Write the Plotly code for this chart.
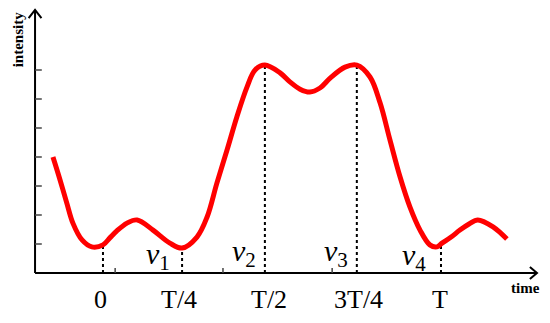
import plotly.graph_objects as go

# Curve (time in units of T, intensity in tick units)
time = [-0.148, -0.127, -0.107, -0.089, -0.062, -0.033, 0.000, 0.021, 0.041, 0.071,
        0.101, 0.148, 0.198, 0.234, 0.278, 0.308, 0.337, 0.367, 0.396, 0.426,
        0.450, 0.479, 0.524, 0.553, 0.583, 0.612, 0.642, 0.672, 0.716, 0.751,
        0.790, 0.820, 0.849, 0.879, 0.908, 0.938, 0.967, 0.988, 1.003, 1.030,
        1.056, 1.083, 1.109, 1.154, 1.195]
intensity = [4.00, 3.21, 2.41, 1.72, 1.14, 0.90, 0.97, 1.22, 1.45, 1.72,
             1.83, 1.48, 1.03, 0.86, 1.24, 1.93, 3.10, 4.24, 5.38, 6.41,
             7.00, 7.17, 6.90, 6.59, 6.34, 6.24, 6.38, 6.72, 7.10, 7.17,
             6.76, 5.86, 4.59, 3.31, 2.28, 1.48, 0.97, 0.90, 1.03, 1.24,
             1.48, 1.69, 1.83, 1.59, 1.17]

# dotted guide lines: position and height where they meet the curve
guide_x = [0.0, 0.234, 0.479, 0.751, 1.0]
guide_top = [1.03, 0.86, 7.17, 7.17, 1.03]

tick_labels = ["0", "T/4", "T/2", "3T/4", "T"]
tick_label_x = [-0.006, 0.225, 0.491, 0.757, 0.997]

v_labels = ["<i>v</i><sub>1</sub>", "<i>v</i><sub>2</sub>", "<i>v</i><sub>3</sub>", "<i>v</i><sub>4</sub>"]
v_x = [0.163, 0.417, 0.689, 0.920]
v_y = [0.59, 0.69, 0.69, 0.55]

y_ticks = [1, 2, 3, 4, 5, 6, 7]
x_minor_ticks = [0.036, 0.355, 0.678]

# axis extents
X0, X1 = -0.201, 1.284
Y1 = 9.07

fig = go.Figure()

for gx, gt in zip(guide_x, guide_top):
    fig.add_trace(go.Scatter(x=[gx, gx], y=[0, gt], mode="lines",
                             line=dict(color="black", width=2, dash="dot"),
                             hoverinfo="skip", showlegend=False))

fig.add_trace(go.Scatter(x=time, y=intensity, mode="lines",
                         line=dict(color="#ff0000", width=5, shape="spline", smoothing=1.0),
                         showlegend=False))

shapes = []
axis_line = dict(color="black", width=2)
shapes.append(dict(type="line", x0=X0, x1=X1, y0=0, y1=0, line=axis_line))
shapes.append(dict(type="line", x0=X0, x1=X0, y0=0, y1=Y1, line=axis_line))
# arrow heads
shapes.append(dict(type="path", path=f"M {X0-0.019},{Y1-0.28} L {X0},{Y1} L {X0+0.019},{Y1-0.28}",
                   line=axis_line))
shapes.append(dict(type="path", path=f"M {X1-0.021},0.21 L {X1},0 L {X1-0.021},-0.21",
                   line=axis_line))
for yt in y_ticks:
    shapes.append(dict(type="line", x0=X0, x1=X0 + 0.02, y0=yt, y1=yt,
                       line=dict(color="#444", width=1.5)))
for xt in x_minor_ticks:
    shapes.append(dict(type="line", x0=xt, x1=xt, y0=0, y1=0.17,
                       line=dict(color="#444", width=1.5)))

annotations = []
for lab, lx in zip(tick_labels, tick_label_x):
    annotations.append(dict(x=lx, y=-0.93, text=lab, showarrow=False,
                            font=dict(family="Liberation Serif", size=26, color="black")))
for lab, lx, ly in zip(v_labels, v_x, v_y):
    annotations.append(dict(x=lx, y=ly, text=lab, showarrow=False,
                            font=dict(family="Liberation Serif", size=30, color="black")))
annotations.append(dict(x=1.25, y=-0.5, text="<b>time</b>", showarrow=False,
                        font=dict(family="Liberation Serif", size=15, color="black")))
annotations.append(dict(x=-0.252, y=8.05, text="<b>intensity</b>", showarrow=False, textangle=-90,
                        font=dict(family="Liberation Serif", size=15, color="black")))

# page has an 8px body margin, so the figure is 8px smaller and the ranges are shifted
fig.update_layout(
    width=542, height=315,
    margin=dict(l=0, r=0, t=0, b=0),
    paper_bgcolor="white", plot_bgcolor="white",
    xaxis=dict(range=[-0.281, 1.3225], visible=False, fixedrange=True),
    yaxis=dict(range=[-1.724, 9.138], visible=False, fixedrange=True),
    shapes=shapes,
    annotations=annotations,
)

fig.write_html("out.html")
